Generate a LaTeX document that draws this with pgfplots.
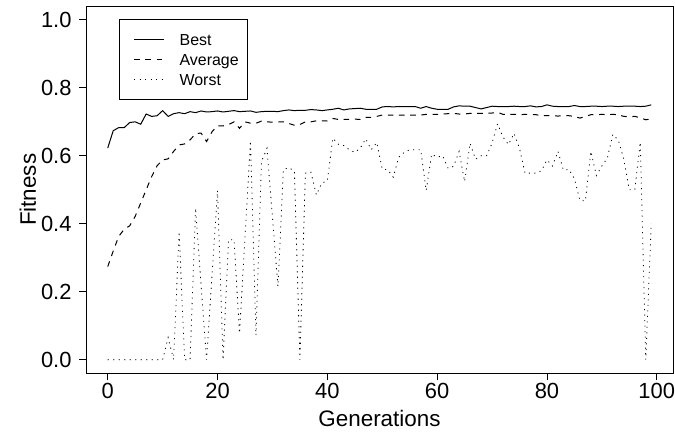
\documentclass[border=0pt]{standalone}
\usepackage{fontspec}
\setmainfont{Liberation Sans}
\usepackage{pgfplots}
\pgfplotsset{compat=1.18}
\usepackage{pgfplotstable}

\pgfplotstableread{
g best avg worst
0 0.623 0.274 0
1 0.674 0.320 0
2 0.683 0.363 0
3 0.683 0.384 0
4 0.698 0.394 0
5 0.700 0.422 0
6 0.693 0.461 0
7 0.723 0.500 0
8 0.716 0.539 0
9 0.718 0.571 0
10 0.733 0.588 0
11 0.716 0.591 0.065
12 0.724 0.613 0
13 0.727 0.632 0.377
14 0.724 0.635 0
15 0.730 0.647 0
16 0.727 0.665 0.446
17 0.732 0.667 0.22
18 0.729 0.642 0
19 0.730 0.671 0.25
20 0.732 0.688 0.498
21 0.729 0.688 0
22 0.731 0.692 0.353
23 0.733 0.700 0.353
24 0.730 0.681 0.078
25 0.731 0.700 0.36
26 0.732 0.696 0.644
27 0.728 0.696 0.072
28 0.730 0.702 0.583
29 0.731 0.700 0.622
30 0.731 0.699 0.42
31 0.730 0.700 0.216
32 0.733 0.700 0.56
33 0.735 0.695 0.565
34 0.733 0.690 0.555
35 0.734 0.692 0
36 0.734 0.700 0.549
37 0.736 0.700 0.552
38 0.735 0.703 0.485
39 0.733 0.703 0.52
40 0.735 0.703 0.526
41 0.737 0.710 0.652
42 0.740 0.707 0.634
43 0.735 0.707 0.63
44 0.738 0.707 0.618
45 0.739 0.708 0.61
46 0.740 0.707 0.623
47 0.737 0.713 0.65
48 0.737 0.713 0.618
49 0.737 0.716 0.639
50 0.744 0.720 0.561
51 0.745 0.720 0.559
52 0.744 0.720 0.537
53 0.745 0.720 0.596
54 0.745 0.720 0.61
55 0.745 0.720 0.618
56 0.745 0.720 0.618
57 0.740 0.720 0.618
58 0.745 0.722 0.498
59 0.740 0.722 0.605
60 0.737 0.722 0.596
61 0.737 0.723 0.60
62 0.737 0.724 0.563
63 0.744 0.725 0.569
64 0.747 0.723 0.613
65 0.746 0.723 0.524
66 0.746 0.725 0.637
67 0.742 0.725 0.59
68 0.738 0.725 0.60
69 0.742 0.725 0.60
70 0.746 0.726 0.637
71 0.745 0.728 0.694
72 0.745 0.722 0.655
73 0.745 0.722 0.633
74 0.746 0.722 0.666
75 0.745 0.721 0.622
76 0.745 0.722 0.549
77 0.747 0.721 0.549
78 0.744 0.721 0.549
79 0.745 0.718 0.556
80 0.750 0.718 0.588
81 0.746 0.718 0.570
82 0.745 0.717 0.613
83 0.745 0.718 0.558
84 0.745 0.718 0.560
85 0.748 0.716 0.533
86 0.745 0.711 0.469
87 0.745 0.716 0.467
88 0.746 0.721 0.613
89 0.746 0.721 0.542
90 0.745 0.722 0.570
91 0.746 0.721 0.593
92 0.746 0.722 0.663
93 0.745 0.721 0.646
94 0.746 0.716 0.590
95 0.746 0.715 0.500
96 0.746 0.716 0.500
97 0.745 0.712 0.640
98 0.746 0.706 0.0
99 0.750 0.709 0.401
}\fitdata

\begin{document}
\begin{tikzpicture}
\path[use as bounding box] (0,0) rectangle (675bp,432bp);
\begin{axis}[
  at={(86bp,58.7bp)}, anchor=south west,
  scale only axis, width=587bp, height=367bp,
  xmin=-3.96, xmax=102.96, ymin=-0.04, ymax=1.04,
  axis line style={line width=0.8bp, black},
  xtick={0,20,40,60,80,100},
  ytick={0,0.2,0.4,0.6,0.8,1},
  yticklabels={0.0,0.2,0.4,0.6,0.8,1.0},
  xtick pos=bottom, ytick pos=left,
  tick align=outside, major tick length=7bp,
  tick style={line width=0.8bp, black},
  /pgf/number format/assume math mode=true,
  ticklabel style={font=\fontsize{22}{26}\selectfont},
  xticklabel style={anchor=base, inner sep=0pt, yshift=-18bp},
  yticklabel style={anchor=east, inner sep=0pt, xshift=-7.3bp},
  xlabel={Generations},
  ylabel={Fitness},
  every axis x label/.style={at={(axis description cs:0.5,-0.1458)}, anchor=base,
    font=\fontsize{22.5}{26}\selectfont},
  every axis y label/.style={at={(axis description cs:-0.0852,0.5)}, rotate=90, anchor=base,
    font=\fontsize{22.5}{26}\selectfont},
  legend cell align=left,
  legend style={at={(axis cs:2,1.003)}, anchor=north west, draw=black,
    line width=0.8bp, inner xsep=9bp, inner ysep=14.3bp,
    font=\fontsize{16}{19}\selectfont,
    nodes={inner sep=0pt, text height=11.5bp, text depth=0pt, anchor=west},
    row sep=8.5bp, column sep=15bp},
  legend image code/.code={\path[draw=none,fill=none] (0bp,-5.75bp) rectangle (36bp,5.75bp);
    \draw[#1] (6bp,0bp) -- (36bp,0bp);},
]
\addplot[black, line width=1bp] table[x=g,y=best] {\fitdata};
\addlegendentry{Best}
\addplot[black, line width=1bp, dash pattern=on 5.6bp off 5.6bp] table[x=g,y=avg] {\fitdata};
\addlegendentry{Average}
\addplot[black, line width=0.8bp, dash pattern=on 1.1bp off 4.4bp] table[x=g,y=worst] {\fitdata};
\addlegendentry{Worst}
\end{axis}
\end{tikzpicture}
\end{document}
